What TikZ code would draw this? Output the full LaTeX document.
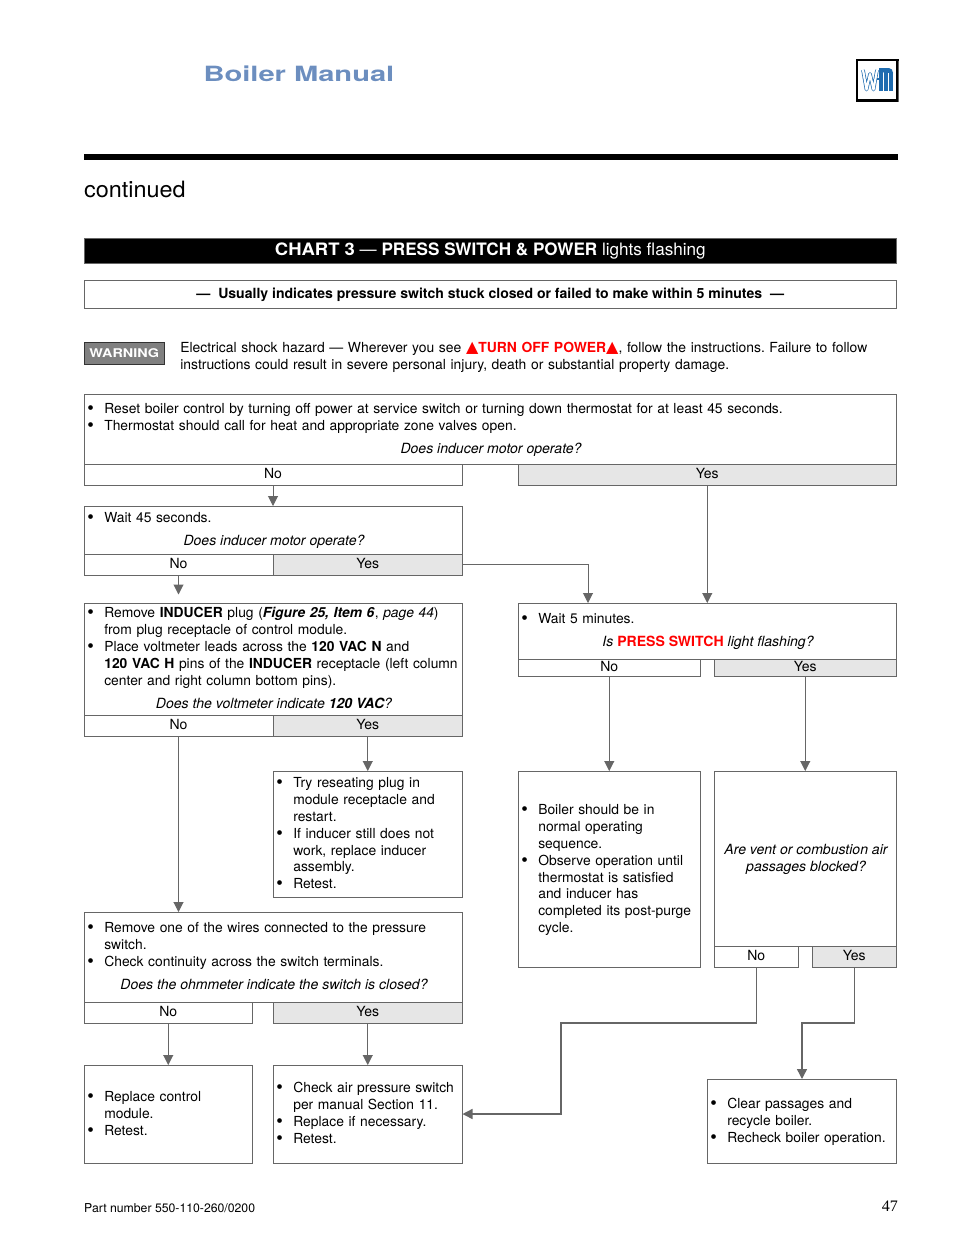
\documentclass[tikz,border=0pt]{standalone}
\usepackage{fontspec}
\setmainfont{TeX Gyre Heros}
\newfontfamily\symfont{DejaVu Sans}
\newfontfamily\pagefont{Liberation Serif}
\usetikzlibrary{arrows.meta,calc}
\definecolor{linegray}{HTML}{666666}
\definecolor{yesgray}{HTML}{E6E6E6}
\definecolor{titleblue}{HTML}{6C8EBF}
\definecolor{wmblue}{HTML}{1F6CB0}
\definecolor{warngray}{HTML}{808080}
\newcommand{\bul}[1]{\leftskip=17pt\leavevmode\llap{\makebox[17pt][l]{\raisebox{-1pt}{\scalebox{1.35}{\textbullet}}}}#1\par}
\newcommand{\upmark}{\scalebox{1.15}{\symfont\char"25B2}}
\tikzset{
  chartbox/.style={draw=linegray,line width=1pt,inner sep=0pt,outer sep=0pt,anchor=north west},
  nobox/.style={chartbox,text depth=2pt,font=\fontsize{14}{16.9}\selectfont},
  yesbox/.style={nobox,fill=yesgray},
  chartline/.style={draw=linegray,line width=1pt,-{Triangle[width=10pt,length=10pt]}},
  bodytext/.style={inner sep=0pt,outer sep=0pt,anchor=base west,align=left,text width=#1,yshift=-.4pt,xshift=.3pt,font=\fontsize{13.85}{16.9}\selectfont\frenchspacing},
  asktext/.style={inner sep=0pt,outer sep=0pt,anchor=base,align=center,font=\fontsize{14.05}{16.9}\selectfont\itshape},
}
\begin{document}
\begin{tikzpicture}[x=1pt,y=-1pt]
\useasboundingbox (0,0) rectangle (954,1235);
% page head
\node[inner sep=0pt,anchor=base west,text=titleblue,font=\fontsize{21}{24}\selectfont\bfseries,xscale=1.385] (title) at (203.3,81) {Boiler Manual};
\draw[black,line width=2.2pt,fill=white] (857,60) rectangle (897.5,100.5);
\draw[linegray,line width=1pt] (898.5,61) -- (898.5,101.5);
\draw[wmblue,double=white,double distance=2.2pt,line width=.7pt,line join=round] (863,70) -- (866.5,89.5) -- (870,74) -- (873.5,89.5) -- (877,70);
\draw[wmblue,line width=2pt] (877,79) -- (881,79);
\draw[wmblue,line width=3.6pt] (881,91) -- (881,69);
\draw[wmblue,line width=3.6pt] (886,91) -- (886,71);
\draw[wmblue,line width=3.6pt] (891,91) -- (891,73);
\fill[wmblue] (879,68) -- (889,68) to[out=0,in=90] (893,73) -- (889,73) -- (879,72) -- cycle;
\fill[black] (84,154) rectangle (898,160);
\node[inner sep=0pt,anchor=base west,font=\fontsize{22.5}{26}\selectfont,xscale=1.04] (continued) at (84,197) {continued};
% chart title
\node[chartbox,fill=black,minimum width=812.5pt,minimum height=25pt,text height=10.6pt,text depth=0pt,text=white,font=\fontsize{17.1}{20}\selectfont] (chart) at (84,238) {\textbf{\scalebox{1.08}[1]{CHART 3}} --- \textbf{PRESS SWITCH \& POWER} lights flashing};
\node[chartbox,minimum width=812.5pt,minimum height=28pt,text height=9pt,text depth=0pt,font=\fontsize{14.05}{17}\selectfont\bfseries] (usually) at (84,280) {--- \ Usually indicates pressure switch stuck closed or failed to make within 5 minutes \ ---};
% warning
\node[chartbox,draw=black!80,fill=warngray,minimum width=80.5pt,minimum height=22pt,text=white,font=\fontsize{12}{14}\selectfont\bfseries] (warning) at (84,342) {\scalebox{1.2}[1]{WARNING}};
\node[bodytext=730pt,font=\fontsize{13.9}{16.9}\selectfont\frenchspacing] (warntext) at (180,352) {Electrical shock hazard --- Wherever you see {\color{red}\textbf{\upmark TURN OFF POWER\upmark}}, follow the instructions. Failure to follow\\instructions could result in severe personal injury, death or substantial property damage.};
% left column
\node[chartbox,minimum width=812.5pt,minimum height=70pt] (boxa) at (84,394) {};
\node[nobox,minimum width=378pt,minimum height=21pt] (noa) at (84,464) {No};
\node[yesbox,minimum width=378.5pt,minimum height=21pt] (yesa) at (518,464) {Yes};
\node[bodytext=800pt] (texta) at (87,413) {\bul{Reset boiler control by turning off power at service switch or turning down thermostat for at least 45 seconds.}\bul{Thermostat should call for heat and appropriate zone valves open.}};
\node[asktext] (aska) at (491,453) {Does inducer motor operate?};

\node[chartbox,minimum width=378.5pt,minimum height=48pt] (boxb) at (84,506) {};
\node[nobox,minimum width=189pt,minimum height=21pt] (nob) at (84,554) {No};
\node[yesbox,minimum width=189.5pt,minimum height=21pt] (yesb) at (273,554) {Yes};
\node[bodytext=370pt] (textb) at (87,522) {\bul{Wait 45 seconds.}};
\node[asktext] (askb) at (274,545) {Does inducer motor operate?};

\node[chartbox,minimum width=378.5pt,minimum height=112pt] (boxc) at (84,603) {};
\node[nobox,minimum width=189pt,minimum height=21pt] (noc) at (84,715) {No};
\node[yesbox,minimum width=189.5pt,minimum height=21pt] (yesc) at (273,715) {Yes};
\node[bodytext=374pt] (textc) at (87,617) {\bul{Remove \textbf{INDUCER} plug (\textbf{\textit{Figure 25, Item 6}}, \textit{page 44})\\from plug receptacle of control module.}\bul{Place voltmeter leads across the \textbf{120 VAC N} and\\\textbf{120 VAC H} pins of the \textbf{INDUCER} receptacle (left column\\center and right column bottom pins).}};
\node[asktext] (askc) at (274,708) {Does the voltmeter indicate \textbf{120 VAC}?};

\node[chartbox,minimum width=189.5pt,minimum height=126pt] (boxd) at (273,771) {};
\node[bodytext=185pt] (textd) at (276,787) {\bul{Try reseating plug in\\module receptacle and\\restart.}\bul{If inducer still does not\\work, replace inducer\\assembly.}\bul{Retest.}};

\node[chartbox,minimum width=378.5pt,minimum height=90pt] (boxe) at (84,912) {};
\node[nobox,minimum width=168.5pt,minimum height=21pt] (noe) at (84,1002) {No};
\node[yesbox,minimum width=189.5pt,minimum height=21pt] (yese) at (273,1002) {Yes};
\node[bodytext=374pt] (texte) at (87,932) {\bul{Remove one of the wires connected to the pressure\\switch.}\bul{Check continuity across the switch terminals.}};
\node[asktext] (aske) at (274,989) {Does the ohmmeter indicate the switch is closed?};

\node[chartbox,minimum width=168.5pt,minimum height=98pt] (boxf) at (84,1065) {};
\node[bodytext=165pt] (textf) at (87,1101) {\bul{Replace control\\module.}\bul{Retest.}};
\node[chartbox,minimum width=189.5pt,minimum height=98pt] (boxg) at (273,1065) {};
\node[bodytext=187pt] (textg) at (276,1092) {\bul{Check air pressure switch\\per manual Section 11.}\bul{Replace if necessary.}\bul{Retest.}};
% right column
\node[chartbox,minimum width=378.5pt,minimum height=56pt] (boxh) at (518,603) {};
\node[nobox,minimum width=182.5pt,minimum height=17pt] (noh) at (518,659) {No};
\node[yesbox,minimum width=182.5pt,minimum height=17pt] (yesh) at (714,659) {Yes};
\node[bodytext=370pt] (texth) at (521,623) {\bul{Wait 5 minutes.}};
\node[asktext] (askh) at (708,646) {Is {\color{red}\textbf{\upshape PRESS SWITCH}} light flashing?};

\node[chartbox,minimum width=182.5pt,minimum height=196pt] (boxi) at (518,771) {};
\node[bodytext=180pt] (texti) at (521,814) {\bul{Boiler should be in\\normal operating\\sequence.}\bul{Observe operation until\\thermostat is satisfied\\and inducer has\\completed its post-purge\\cycle.}};

\node[chartbox,minimum width=182.5pt,minimum height=175pt] (boxj) at (714,771) {};
\node[nobox,minimum width=84.5pt,minimum height=21pt] (noj) at (714,946) {No};
\node[yesbox,minimum width=84.5pt,minimum height=21pt] (yesj) at (812,946) {Yes};
\node[asktext] (askj) at (806,871) {Are vent or combustion air\\passages blocked?};

\node[chartbox,minimum width=189.5pt,minimum height=84pt] (boxk) at (707,1079) {};
\node[bodytext=187pt] (textk) at (710,1108) {\bul{Clear passages and\\recycle boiler.}\bul{Recheck boiler operation.}};
% connectors
\coordinate (turnb) at (yesb.east -| 588,0);
\coordinate (turnjn) at (noj.south |- 0,1023);
\coordinate (turnjg) at (561,1023);
\coordinate (turnjy) at (yesj.south |- 0,1023);
\coordinate (turnjk) at (802,1023);
\draw[chartline] (noa.south) -- (noa.south |- boxb.north);
\draw[chartline] (yesa.south) -- (yesa.south |- boxh.north);
\draw[chartline,shorten >=8.5pt] (nob.south) -- (nob.south |- boxc.north);
\draw[chartline] (yesb.east) -- (turnb) -- (turnb |- boxh.north);
\draw[chartline] (noc.south) -- (noc.south |- boxe.north);
\draw[chartline] (yesc.south) -- (yesc.south |- boxd.north);
\draw[chartline] (noe.south) -- (noe.south |- boxf.north);
\draw[chartline] (yese.south) -- (yese.south |- boxg.north);
\draw[chartline] (noh.south) -- (noh.south |- boxi.north);
\draw[chartline] (yesh.south) -- (yesh.south |- boxj.north);
\draw[chartline,line width=1.4pt] (noj.south) -- (turnjn) -- (turnjg) -- (turnjg |- 0,1114) -- (boxg.east |- 0,1114);
\draw[chartline,line width=1.4pt] (yesj.south) -- (turnjy) -- (turnjk) -- (turnjk |- boxk.north);
% page foot
\node[inner sep=0pt,anchor=base west,font=\fontsize{12.25}{14}\selectfont] (partno) at (84,1212) {Part number 550-110-260/0200};
\node[inner sep=0pt,anchor=base east,font=\fontsize{16}{18}\pagefont] (pageno) at (898,1211) {47};
\end{tikzpicture}
\end{document}
